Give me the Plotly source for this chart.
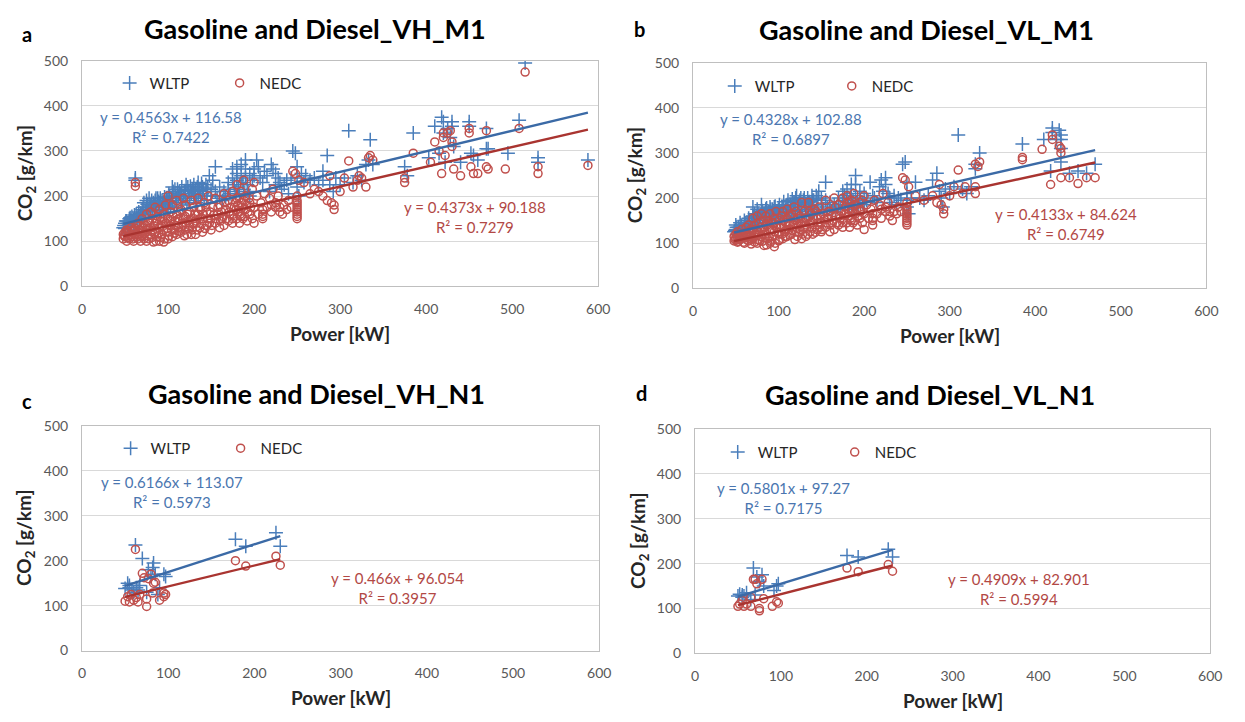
import plotly.graph_objects as go

# ---------------- data ----------------
PANEL_TITLES = ["Gasoline and Diesel_VH_M1", "Gasoline and Diesel_VL_M1",
                "Gasoline and Diesel_VH_N1", "Gasoline and Diesel_VL_N1"]
PANEL_LETTERS = ["a", "b", "c", "d"]
SERIES_NAMES = ["WLTP", "NEDC"]

A_WLTP = [(48,130),(50,140),(50,128),(52,145),(53,135),(55,150),(55,138),(57,142),(58,155),(60,148),(60,132),(62,240),(62,235),(63,160),(65,145),(65,155),(67,150),(68,162),(70,158),(70,170),(72,185),(72,150),(75,190),(75,175),(77,165),(78,195),(80,180),(80,170),(82,160),(83,185),(85,175),(85,190),(87,168),(88,195),(90,185),(90,178),(92,170),(93,190),(95,182),(95,165),(97,175),(98,195),(100,185),(100,170),(102,200),(103,178),(105,190),(105,220),(107,175),(108,215),(110,195),(110,185),(112,200),(113,210),(115,190),(115,205),(117,180),(118,200),(120,210),(120,195),(122,185),(123,220),(125,200),(125,190),(127,205),(128,215),(130,225),(130,195),(132,210),(133,185),(135,200),(135,230),(137,215),(138,195),(140,220),(140,205),(142,190),(145,210),(145,200),(148,245),(150,215),(150,200),(152,235),(155,265),(155,210),(157,195),(160,200),(160,220),(163,190),(165,210),(167,200),(170,230),(170,215),(172,205),(175,260),(175,240),(177,225),(178,210),(180,265),(180,250),(180,235),(182,220),(183,205),(185,270),(185,245),(187,230),(188,215),(190,280),(190,260),(190,240),(192,225),(193,210),(195,250),(195,200),(198,235),(200,245),(200,260),(203,280),(205,265),(207,240),(210,230),(212,255),(215,245),(218,210),(220,270),(222,260),(225,250),(225,225),(228,240),(230,230),(232,215),(235,225),(238,235),(240,205),(243,240),(245,300),(248,295),(250,265),(250,240),(250,220),(252,200),(255,250),(258,230),(260,245),(265,235),(270,240),(275,225),(280,255),(280,235),(285,290),(288,225),(292,210),(295,240),(300,225),(305,240),(310,345),(315,230),(320,245),(325,235),(330,270),(333,280),(335,325),(338,270),(375,265),(378,245),(385,340),(403,285),(410,355),(415,295),(418,375),(420,365),(420,340),(422,275),(425,350),(428,330),(430,365),(430,355),(432,310),(440,275),(450,365),(450,355),(452,295),(455,290),(460,280),(470,350),(470,305),(472,305),(495,295),(508,368),(515,495),(530,285),(530,275),(588,280),
          (49,135),(51,145),(54,140),(56,152),(59,145),(61,158),(64,150),(66,165),(69,160),(71,175),(74,168),(76,182),(79,175),(81,190),(84,180),(86,195),(89,188),(91,195),(94,185),(96,198),(99,190),(101,205),(104,195),(106,210),(109,200),(111,215),(114,205),(116,220),(119,212),(121,225),(124,210),(126,222),(129,215),(131,205),(134,220),(136,212),(139,228),(141,215),(144,225),(146,218)]

A_NEDC = [(48,115),(48,105),(50,120),(50,110),(52,100),(52,125),(55,105),(55,118),(57,130),(58,110),(60,100),(60,122),(62,230),(62,222),(63,135),(65,105),(65,115),(65,140),(67,125),(68,100),(70,130),(70,110),(70,150),(72,140),(73,118),(75,100),(75,125),(75,160),(77,145),(78,105),(80,130),(80,115),(80,165),(82,150),(83,98),(85,120),(85,140),(85,175),(87,110),(88,155),(90,100),(90,130),(90,170),(92,145),(93,115),(95,98),(95,125),(95,160),(97,180),(98,140),(100,105),(100,120),(100,150),(100,200),(102,135),(103,165),(105,110),(105,180),(107,125),(108,145),(110,115),(110,160),(110,190),(112,130),(113,150),(115,120),(115,170),(117,140),(118,195),(120,125),(120,155),(120,180),(122,115),(123,145),(125,135),(125,165),(127,190),(128,125),(130,150),(130,175),(132,115),(133,140),(135,160),(135,195),(137,130),(138,170),(140,120),(140,150),(142,185),(145,135),(145,165),(147,200),(150,125),(150,150),(152,175),(155,140),(155,195),(157,160),(160,130),(160,180),(163,150),(165,135),(165,205),(167,170),(170,145),(170,190),(172,160),(175,140),(175,210),(177,175),(180,150),(180,195),(180,225),(182,165),(183,140),(185,185),(185,210),(187,150),(188,235),(190,170),(190,200),(192,145),(195,160),(195,185),(198,215),(200,140),(200,175),(200,230),(203,200),(205,160),(208,185),(210,150),(210,155),(212,205),(215,175),(218,195),(220,165),(222,215),(225,185),(225,175),(228,200),(230,165),(233,160),(235,180),(238,170),(240,190),(243,175),(245,255),(248,250),(250,150),(250,160),(250,170),(250,180),(250,190),(250,200),(252,235),(258,230),(265,205),(270,215),(275,210),(280,200),(285,190),(288,245),(290,185),(293,170),(293,180),(300,210),(305,240),(310,278),(315,220),(320,235),(322,245),(325,240),(330,220),(333,285),(335,290),(338,280),(375,240),(375,230),(385,295),(405,275),(410,320),(415,300),(418,250),(420,340),(420,330),(422,290),(425,340),(428,345),(430,320),(430,310),(432,260),(440,245),(450,350),(450,340),(452,265),(455,250),(460,250),(470,345),(470,265),(472,260),(492,260),(508,350),(515,475),(530,265),(530,250),(588,268),
          (49,112),(51,118),(53,108),(54,122),(56,113),(58,125),(59,105),(61,115),(62,128),(64,110),(66,120),(67,135),(69,112),(71,122),(72,105),(74,135),(76,112),(77,128),(79,140),(81,108),(82,122),(84,133),(86,100),(87,145),(89,118),(91,108),(92,135),(94,150),(96,105),(97,140),(99,128),(101,112),(103,145),(104,125),(106,155),(108,118),(109,135),(111,148),(113,122),(114,165),(116,132),(118,150),(119,112),(121,140),(123,160),(124,128),(126,148),(127,115),(129,138),(131,160),(132,145),(134,125),(136,175),(137,150),(139,138),(141,160),(143,128),(144,175),(146,150),(148,140),(149,165),(151,135),(153,158),(156,150),(158,175),(161,145),(162,165),(164,155),(166,185),(168,150),(171,165),(173,175),(176,160),(178,185),(179,170),(181,180),(183,195),(184,160),(186,175),(188,190),(189,155),(191,180),(193,165),(194,195),(196,175),(198,150),(210,160),(210,170),(250,155),(250,165),(250,175),(250,185),(230,175),(220,180),(185,155),(175,150)]

B_WLTP = [(48,125),(50,140),(50,130),(52,120),(53,135),(55,145),(55,128),(57,138),(58,125),(60,150),(60,135),(62,130),(63,145),(65,140),(65,155),(67,132),(68,148),(70,180),(70,160),(72,145),(72,165),(75,155),(75,175),(77,140),(78,160),(80,185),(80,170),(82,150),(83,165),(85,175),(85,158),(87,145),(88,170),(90,180),(90,160),(92,150),(93,175),(95,165),(95,180),(97,155),(98,170),(100,175),(100,160),(102,150),(103,168),(105,180),(105,165),(107,155),(108,175),(110,185),(110,160),(112,170),(113,150),(115,180),(115,165),(117,190),(118,170),(120,200),(120,175),(122,160),(123,185),(125,195),(125,170),(127,180),(128,160),(130,200),(130,185),(132,170),(133,160),(135,190),(135,175),(137,180),(138,165),(140,195),(140,185),(142,170),(145,180),(145,165),(147,215),(150,200),(150,185),(152,175),(155,235),(155,195),(157,180),(160,175),(160,190),(163,170),(165,185),(167,175),(170,200),(170,185),(172,180),(175,215),(175,195),(177,205),(178,185),(180,220),(180,200),(182,190),(183,175),(185,230),(185,210),(187,195),(188,180),(190,250),(190,230),(190,205),(192,190),(193,180),(195,215),(195,200),(198,190),(200,210),(200,185),(203,195),(207,235),(210,205),(212,200),(215,190),(218,225),(220,240),(222,215),(225,245),(225,230),(228,210),(230,200),(232,190),(235,205),(238,185),(240,200),(243,195),(245,275),(248,280),(250,235),(250,210),(250,195),(250,180),(252,165),(255,200),(260,235),(265,200),(270,195),(275,205),(280,240),(285,255),(288,215),(290,200),(292,180),(295,220),(300,210),(305,225),(310,340),(315,220),(320,210),(325,225),(330,265),(330,275),(335,300),(385,320),(410,330),(418,260),(420,355),(420,345),(425,330),(428,350),(430,340),(430,330),(430,310),(430,280),(440,255),(450,260),(460,255),(470,275),
          (49,128),(51,135),(54,130),(56,140),(59,132),(61,145),(64,138),(66,150),(69,145),(71,158),(74,150),(76,165),(79,158),(81,172),(84,165),(86,178),(89,170),(91,175),(94,168),(96,182),(99,172),(101,185),(104,178),(106,192),(109,182),(111,195),(114,185),(116,198),(119,190),(121,205),(124,192),(126,200),(129,195),(131,188),(134,200),(136,192),(139,205),(141,195),(144,205),(146,198)]

B_NEDC = [(48,115),(48,105),(50,120),(50,110),(52,102),(52,125),(55,108),(55,118),(57,130),(58,112),(60,100),(60,122),(62,135),(63,115),(65,105),(65,125),(65,140),(67,115),(68,98),(70,130),(70,110),(70,155),(72,140),(73,118),(75,100),(75,125),(75,160),(77,145),(78,105),(80,130),(80,115),(80,165),(82,150),(83,95),(85,120),(85,140),(85,160),(87,110),(88,150),(90,100),(90,130),(90,165),(92,145),(93,115),(95,92),(95,125),(95,155),(97,170),(98,135),(100,105),(100,120),(100,150),(102,135),(103,160),(105,110),(105,170),(107,125),(108,145),(110,115),(110,155),(110,175),(112,130),(113,145),(115,120),(115,165),(117,140),(118,180),(120,125),(120,150),(120,170),(122,115),(123,140),(125,130),(125,160),(127,190),(128,120),(130,145),(130,170),(132,115),(133,135),(135,155),(135,190),(137,125),(138,165),(140,120),(140,145),(142,175),(145,130),(145,160),(147,180),(150,125),(150,145),(152,165),(155,135),(155,195),(157,155),(160,125),(160,170),(163,145),(165,130),(165,200),(167,160),(170,140),(170,185),(172,155),(175,135),(175,200),(177,165),(180,145),(180,190),(180,205),(182,160),(183,135),(185,175),(185,195),(187,145),(188,210),(190,165),(190,185),(192,140),(195,155),(195,175),(198,195),(200,130),(200,165),(200,205),(203,185),(205,155),(208,175),(210,140),(210,150),(212,195),(215,165),(218,185),(220,155),(222,210),(225,180),(225,170),(228,190),(230,160),(233,150),(235,170),(238,165),(240,180),(243,170),(245,245),(248,240),(250,140),(250,150),(250,160),(250,170),(250,180),(250,190),(252,225),(260,205),(270,195),(280,205),(285,190),(288,230),(290,185),(293,165),(293,175),(300,205),(305,225),(310,262),(315,210),(318,225),(330,210),(330,225),(330,275),(333,270),(335,280),(385,290),(385,285),(408,308),(418,230),(420,340),(420,330),(428,315),(430,310),(430,300),(430,245),(440,245),(450,232),(460,245),(470,245),
          (49,108),(51,115),(53,104),(54,118),(56,110),(58,120),(59,102),(61,112),(62,124),(64,106),(66,116),(67,130),(69,108),(71,118),(72,102),(74,130),(76,108),(77,124),(79,135),(81,104),(82,118),(84,128),(86,96),(87,140),(89,114),(91,104),(92,130),(94,145),(96,100),(97,135),(99,124),(101,108),(103,140),(104,120),(106,150),(108,114),(109,130),(111,143),(113,118),(114,160),(116,128),(118,145),(119,108),(121,135),(123,155),(124,124),(126,143),(127,110),(129,133),(131,155),(132,140),(134,120),(136,170),(137,145),(139,133),(141,155),(143,124),(144,170),(146,145),(148,135),(149,160),(151,130),(153,153),(156,145),(158,170),(161,140),(162,160),(164,150),(166,180),(168,145),(171,160),(173,170),(176,155),(178,180),(179,165),(181,175),(183,190),(184,155),(186,170),(188,185),(189,150),(191,175),(193,160),(194,190),(196,170),(198,145),(210,155),(210,165),(250,145),(250,155),(250,165),(250,175),(230,170),(220,175),(185,150),(175,145)]

C_WLTP = [(50,138),(53,150),(55,145),(55,140),(58,135),(60,130),(62,235),(63,140),(65,135),(67,145),(70,205),(75,130),(77,180),(80,165),(82,185),(83,195),(85,170),(88,125),(90,140),(95,170),(97,165),(178,248),(190,232),(225,262),(230,232)]
C_NEDC = [(50,110),(53,120),(55,108),(57,125),(60,112),(62,225),(63,118),(65,108),(67,125),(70,172),(72,162),(75,98),(75,115),(77,160),(80,170),(82,128),(83,150),(85,152),(90,112),(95,120),(95,128),(97,125),(178,200),(190,188),(225,210),(230,190)]

D_WLTP = [(50,128),(52,132),(55,130),(55,125),(57,128),(60,135),(65,120),(68,190),(70,130),(72,170),(75,160),(78,175),(80,150),(92,140),(95,150),(97,155),(177,218),(190,215),(225,232),(230,215)]
D_NEDC = [(50,105),(52,110),(55,118),(57,105),(60,110),(65,105),(65,125),(68,165),(70,165),(72,155),(75,100),(75,95),(78,165),(80,122),(90,105),(95,115),(97,112),(177,190),(190,182),(225,198),(230,183)]

SLOPES = [(0.4563, 0.4373), (0.4328, 0.4133), (0.6166, 0.466), (0.5801, 0.4909)]
INTERCEPTS = [(116.58, 90.188), (102.88, 84.624), (113.07, 96.054), (97.27, 82.901)]
R2 = [("0.7422", "0.7279"), ("0.6897", "0.6749"), ("0.5973", "0.3957"), ("0.7175", "0.5994")]
EQ_TEXT = [("0.4563x + 116.58", "0.4373x + 90.188"), ("0.4328x + 102.88", "0.4133x + 84.624"),
           ("0.6166x + 113.07", "0.466x + 96.054"), ("0.5801x + 97.27", "0.4909x + 82.901")]

X_TICKS = [0, 100, 200, 300, 400, 500, 600]
Y_TICKS = [0, 100, 200, 300, 400, 500]

DATA = [(A_WLTP, A_NEDC), (B_WLTP, B_NEDC), (C_WLTP, C_NEDC), (D_WLTP, D_NEDC)]

# ---------------- styling / layout ----------------
W, H = 1245, 722
FONT = "Lato"
BLUE_M, RED_M = "#4a7ebb", "#c0504d"
BLUE_L, RED_L = "#3b6aa6", "#a93430"
BLUE_T, RED_T = "#4a76b0", "#b24845"

# plot-area pixel boxes (left, right, top, bottom)
BOXES = [(79, 602, 53, 284), (698, 1218, 55, 286), (79, 603, 427, 657), (700, 1222, 430, 660)]
# per-panel pixel offsets of texts
TITLE_OFF = [(-25, -33), (-23, -34), (-24, -33), (-23, -35)]
LETTER_OFF = [(-56, -27), (-54, -35), (-56, -26), (-54, -37)]
BLUE_EQ_OFF = [(90, 68), (99, 68), (91, 68), (90, 71)]
RED_EQ_OFF = [(398, 160), (378, 165), (320, 166), (328, 164)]
LEG_OFF = [(28, 23), (22, 24), (29, 23), (23, 24)]
LEG_ENTRY = [65, 72, 65, 72]

def px(x):
    return x / W

def py(y):
    return 1 - y / H

fig = go.Figure()
annotations = []
layout_axes = {}

def ann(text, x, y, size, color, **kw):
    d = dict(text=text, x=px(x), y=py(y), xref="paper", yref="paper", showarrow=False,
             xanchor="center", yanchor="middle", font=dict(family=FONT, size=size, color=color))
    d.update(kw)
    annotations.append(d)

for i, ((wl, ne), box) in enumerate(zip(DATA, BOXES)):
    n = i + 1
    xa = "x" if n == 1 else f"x{n}"
    ya = "y" if n == 1 else f"y{n}"
    leg = "legend" if n == 1 else f"legend{n}"
    for (pts, name, col, sym, size) in [(wl, "WLTP", BLUE_M, "cross-thin-open", 10),
                                        (ne, "NEDC", RED_M, "circle-open", 8)]:
        fig.add_trace(go.Scatter(
            x=[p[0] for p in pts], y=[p[1] for p in pts], mode="markers", name=name,
            marker=dict(symbol=sym, size=size, color=col, line=dict(color=col, width=1.5)),
            xaxis=xa, yaxis=ya, legend=leg, showlegend=True))
    for k, (pts, col) in enumerate([(wl, BLUE_L), (ne, RED_L)]):
        xs = [min(p[0] for p in pts), max(p[0] for p in pts)]
        ys = [SLOPES[i][k] * v + INTERCEPTS[i][k] for v in xs]
        fig.add_trace(go.Scatter(x=xs, y=ys, mode="lines", line=dict(color=col, width=2.4),
                                 xaxis=xa, yaxis=ya, showlegend=False, hoverinfo="skip"))

    l, r, t, b = box
    axis_common = dict(showline=True, mirror=True, linecolor="#bfbfbf", linewidth=1,
                       ticks="", tickfont=dict(family=FONT, size=14, color="#595959"),
                       zeroline=False, ticklabelstandoff=10)
    layout_axes["xaxis" if n == 1 else f"xaxis{n}"] = dict(
        axis_common, domain=[px(l), px(r)], range=[0, 600], tickvals=X_TICKS,
        showgrid=False, anchor=ya)
    layout_axes["yaxis" if n == 1 else f"yaxis{n}"] = dict(
        axis_common, domain=[py(b), py(t)], range=[0, 500], tickvals=Y_TICKS,
        showgrid=True, gridcolor="#d9d9d9", gridwidth=1, anchor=xa)

    cx = (l + r) / 2
    ann(f"<b>{PANEL_TITLES[i]}</b>", cx + TITLE_OFF[i][0], t + TITLE_OFF[i][1], 27, "#000000")
    ann(f"<b>{PANEL_LETTERS[i]}</b>", l + LETTER_OFF[i][0], t + LETTER_OFF[i][1], 20, "#000000")
    ann("<b>Power [kW]</b>", cx, b + 48, 19, "#262626")
    ann("<b>CO<sub>2</sub> [g/km]</b>", l - 57, (t + b) / 2, 19, "#262626", textangle=-90)
    ann(f"y = {EQ_TEXT[i][0]}<br>R² = {R2[i][0]}", l + BLUE_EQ_OFF[i][0], t + BLUE_EQ_OFF[i][1],
        15, BLUE_T, align="center")
    ann(f"y = {EQ_TEXT[i][1]}<br>R² = {R2[i][1]}", l + RED_EQ_OFF[i][0], t + RED_EQ_OFF[i][1],
        15, RED_T, align="center")
    layout_axes[leg] = dict(x=px(l + LEG_OFF[i][0]), y=py(t + LEG_OFF[i][1]),
                            xanchor="left", yanchor="middle",
                            orientation="h", bgcolor="rgba(0,0,0,0)", borderwidth=0,
                            entrywidth=LEG_ENTRY[i], entrywidthmode="pixels",
                            font=dict(family=FONT, size=15, color="#262626"))

fig.update_layout(width=W, height=H, margin=dict(l=0, r=0, t=0, b=0),
                  paper_bgcolor="white", plot_bgcolor="white",
                  annotations=annotations, **layout_axes)

fig.write_html("out.html")
